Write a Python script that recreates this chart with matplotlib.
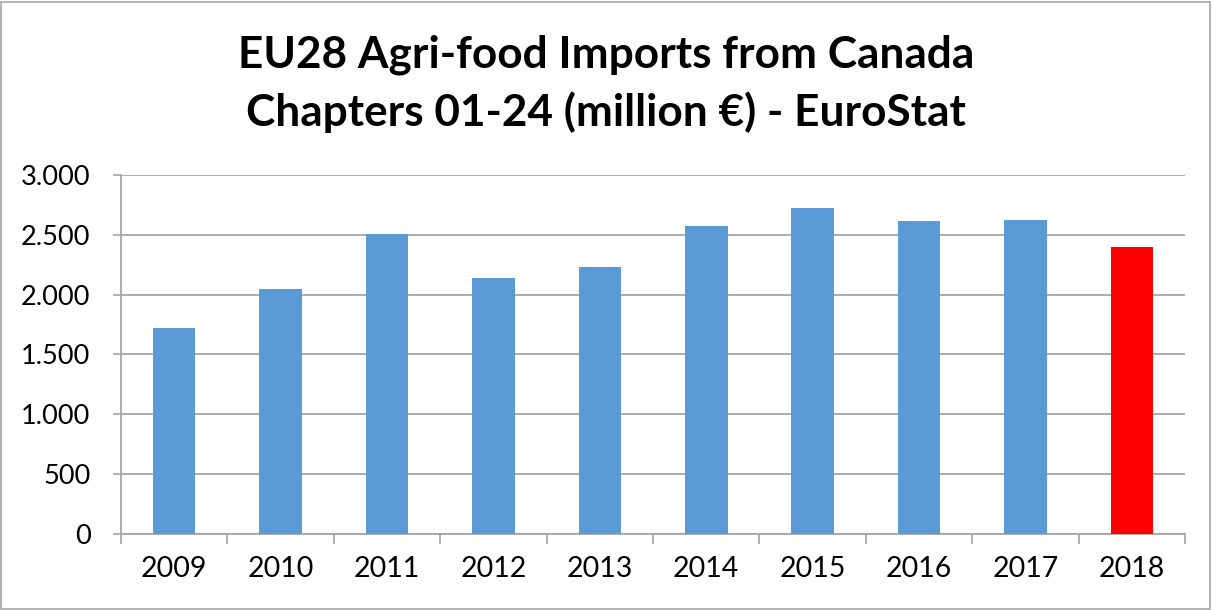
import matplotlib
matplotlib.use('Agg')
import matplotlib.pyplot as plt
import matplotlib.ticker as ticker
from matplotlib.patches import Rectangle

years = ['2009', '2010', '2011', '2012', '2013', '2014', '2015', '2016', '2017', '2018']
imports = [1721, 2050, 2508, 2140, 2229, 2578, 2724, 2617, 2626, 2402]
bar_colors = ['#5B9BD5'] * 9 + ['#FF0000']

title = 'EU28 Agri-food Imports from Canada\nChapters 01-24 (million €) - EuroStat'

plt.rcParams['font.family'] = ['Lato', 'DejaVu Sans']

fig = plt.figure(figsize=(12.12, 6.10), dpi=100)
ax = fig.add_axes([0.0998, 0.1254, 0.878, 0.587])

x = range(len(years))
ax.bar(x, imports, width=0.4, color=bar_colors, zorder=3)

grid_c = '#A6A6A6'
ax.set_xlim(-0.5, len(years) - 0.5)
ax.set_ylim(0, 3000)
ax.yaxis.set_major_locator(ticker.MultipleLocator(500))
ax.yaxis.set_major_formatter(ticker.FuncFormatter(lambda v, p: f'{int(v):,}'.replace(',', '.')))
ax.grid(axis='y', color=grid_c, linewidth=1.3, zorder=0)

ax.set_xticks(list(x))
ax.set_xticklabels(years)
ax.set_xticks([i - 0.5 for i in range(len(years) + 1)], minor=True)
ax.tick_params(axis='x', which='major', length=0, pad=16, labelsize=20.5)
ax.tick_params(axis='x', which='minor', length=7, width=1.2, color=grid_c)
ax.tick_params(axis='y', length=6, width=1.2, color=grid_c, pad=16, labelsize=19.5)

for side in ['top', 'right']:
    ax.spines[side].set_visible(False)
for side in ['left', 'bottom']:
    ax.spines[side].set_color(grid_c)
    ax.spines[side].set_linewidth(1.3)

fig.text(0.5, 0.863, title, ha='center', va='center', fontsize=31.8,
         fontweight='bold', linespacing=1.48)

fig.patches.append(Rectangle((0.001, 0.002), 0.997, 0.995, transform=fig.transFigure,
                             fill=False, edgecolor='#A6A6A6', linewidth=1.2))

fig.savefig('out.png', dpi=100)
